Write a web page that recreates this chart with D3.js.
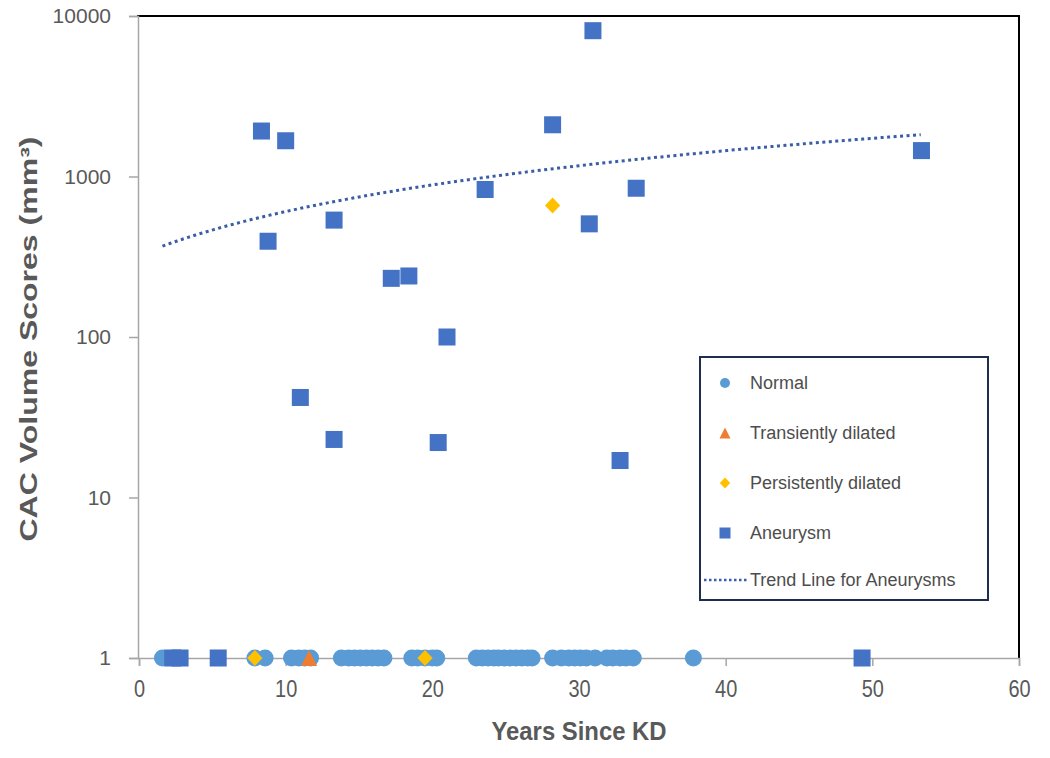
<!DOCTYPE html>
<html><head><meta charset="utf-8">
<script src="https://cdn.jsdelivr.net/npm/d3@7"></script>
<style>body{margin:0;background:#fff}svg{display:block}</style>
</head><body>
<script>
// ---- data ----
const xTicks = [0, 10, 20, 30, 40, 50, 60];
const yTicks = [1, 10, 100, 1000, 10000];
const normalPts = [[1.6,1],[7.9,1],[8.6,1],[10.4,1],[10.9,1],[11.3,1],[11.7,1],
  [13.8,1],[14.3,1],[14.7,1],[15.1,1],[15.5,1],[15.9,1],[16.3,1],[16.7,1],
  [18.6,1],[19.0,1],[19.5,1],[20.0,1],[20.3,1],
  [23.0,1],[23.4,1],[23.8,1],[24.2,1],[24.5,1],[24.9,1],[25.3,1],[25.7,1],[26.1,1],[26.5,1],[26.8,1],
  [28.2,1],[28.8,1],[29.3,1],[29.7,1],[30.1,1],[30.5,1],[31.1,1],[31.9,1],[32.3,1],[32.8,1],[33.2,1],[33.7,1],
  [37.8,1]];
const transientPts = [[11.6,1]];
const persistentPts = [[7.9,1],[19.5,1],[28.2,660]];
const aneurysmPts = [[2.3,1],[2.8,1],[5.4,1],[49.3,1],
  [8.35,1920],[10.0,1670],[8.8,395],[13.3,535],[17.2,232],[18.4,240],[21.0,100],
  [23.6,830],[30.95,8100],[28.2,2100],[33.9,845],[30.7,507],[53.35,1450],
  [11.0,42],[13.3,23],[20.4,22],[32.8,17]];
const trendRange = [1.6, 53.3];
const legendItems = ["Normal","Transiently dilated","Persistently dilated","Aneurysm","Trend Line for Aneurysms"];

const colors = {normal:"#5B9BD5", transient:"#ED7D31", persistent:"#FFC000", aneurysm:"#4472C4", trend:"#3A5DA8"};
const textColor = "#595959";
const font = "'Liberation Sans', Arial, sans-serif";

const W = 1050, H = 758;
const svg = d3.select("body").append("svg").attr("width", W).attr("height", H);
const x = d3.scaleLinear().domain([0, 60]).range([139, 1019]);
const y = d3.scaleLog().domain([1, 10000]).range([658, 16]);

// frame (top/right black)
svg.append("line").attr("x1", 137).attr("x2", 1020).attr("y1", 16).attr("y2", 16).attr("stroke", "#000").attr("stroke-width", 2);
svg.append("line").attr("x1", 1019).attr("x2", 1019).attr("y1", 16).attr("y2", 658).attr("stroke", "#000").attr("stroke-width", 2);

// axes
const yAxis = d3.axisLeft(y).tickValues(yTicks).tickFormat(d3.format("d")).tickSize(9).tickPadding(18);
const gy = svg.append("g").attr("transform", "translate(138,0)").call(yAxis);
gy.select(".domain").attr("stroke", "#A6A6A6").attr("stroke-width", 1.5);
gy.selectAll(".tick line").attr("stroke", "#A6A6A6").attr("stroke-width", 1.5);
gy.selectAll(".tick text").attr("font-family", font).attr("font-size", 21).attr("fill", textColor);

const xAxis = d3.axisBottom(x).tickValues(xTicks).tickSize(8).tickPadding(16);
const gx = svg.append("g").attr("transform", "translate(0,658)").call(xAxis);
gx.select(".domain").attr("stroke", "#A6A6A6").attr("stroke-width", 1.5);
gx.selectAll(".tick line").attr("stroke", "#A6A6A6").attr("stroke-width", 1.5);
gx.selectAll(".tick text").attr("font-family", font).attr("font-size", 21).attr("fill", textColor)
  .attr("transform", "scale(0.95,1.1)").attr("dy", "0.55em");

// axis titles
svg.append("text").attr("x", 579).attr("y", 740).attr("text-anchor", "middle")
  .attr("font-family", font).attr("font-weight", "bold").attr("font-size", 25).attr("fill", textColor)
  .attr("textLength", 175).attr("lengthAdjust", "spacingAndGlyphs").text("Years Since KD");
svg.append("text").attr("transform", "translate(37,339) rotate(-90)").attr("text-anchor", "middle")
  .attr("font-family", font).attr("font-weight", "bold").attr("font-size", 23).attr("fill", textColor)
  .attr("textLength", 405).attr("lengthAdjust", "spacingAndGlyphs").text("CAC Volume Scores (mm³)");

// marker shapes
function drawMarker(g, type, cx, cy, s) {
  if (type === "circle") {
    g.append("circle").attr("cx", cx).attr("cy", cy).attr("r", s / 2).attr("fill", colors.normal);
  } else if (type === "square") {
    g.append("rect").attr("x", cx - s / 2).attr("y", cy - s / 2).attr("width", s).attr("height", s).attr("fill", colors.aneurysm);
  } else if (type === "diamond") {
    const h = s / 2;
    g.append("path").attr("d", `M${cx},${cy - h}L${cx + h * 0.95},${cy}L${cx},${cy + h}L${cx - h * 0.95},${cy}Z`).attr("fill", colors.persistent);
  } else if (type === "triangle") {
    const h = s / 2;
    g.append("path").attr("d", `M${cx},${cy - h}L${cx + h},${cy + h}L${cx - h},${cy + h}Z`).attr("fill", colors.transient);
  }
}

const gm = svg.append("g");
normalPts.forEach(d => drawMarker(gm, "circle", x(d[0]), y(d[1]), 17));
transientPts.forEach(d => drawMarker(gm, "triangle", x(d[0]), y(d[1]), 16));
persistentPts.forEach(d => drawMarker(gm, "diamond", x(d[0]), y(d[1]), 16));
aneurysmPts.forEach(d => drawMarker(gm, "square", x(d[0]), y(d[1]), 17));

// linear trend (least squares on aneurysm points)
const mx = d3.mean(aneurysmPts, d => d[0]), my = d3.mean(aneurysmPts, d => d[1]);
const slope = d3.sum(aneurysmPts, d => (d[0] - mx) * (d[1] - my)) / d3.sum(aneurysmPts, d => (d[0] - mx) ** 2);
const intercept = my - slope * mx;
const tx = d3.range(trendRange[0], trendRange[1], 0.25).concat([trendRange[1]]);
svg.append("path").datum(tx)
  .attr("d", d3.line().x(v => x(v)).y(v => y(intercept + slope * v)))
  .attr("fill", "none").attr("stroke", colors.trend).attr("stroke-width", 3).attr("stroke-dasharray", "3,3.5");

// legend
const lg = svg.append("g");
lg.append("rect").attr("x", 700).attr("y", 357).attr("width", 288).attr("height", 243)
  .attr("fill", "#fff").attr("stroke", "#1F2D4F").attr("stroke-width", 2);
const types = ["circle", "triangle", "diamond", "square"];
const rowY = [383, 433, 483, 533, 580];
legendItems.forEach((t, i) => {
  if (i < 4) drawMarker(lg, types[i], 725, rowY[i], i === 0 ? 10 : 11);
  else lg.append("line").attr("x1", 704).attr("x2", 747).attr("y1", rowY[i]).attr("y2", rowY[i])
    .attr("stroke", colors.trend).attr("stroke-width", 2.5).attr("stroke-dasharray", "2.5,2.5");
  lg.append("text").attr("x", 750).attr("y", rowY[i]).attr("dy", "0.35em")
    .attr("font-family", font).attr("font-size", 18).attr("fill", "#4D4D4D").text(t);
});
</script>
</body></html>
